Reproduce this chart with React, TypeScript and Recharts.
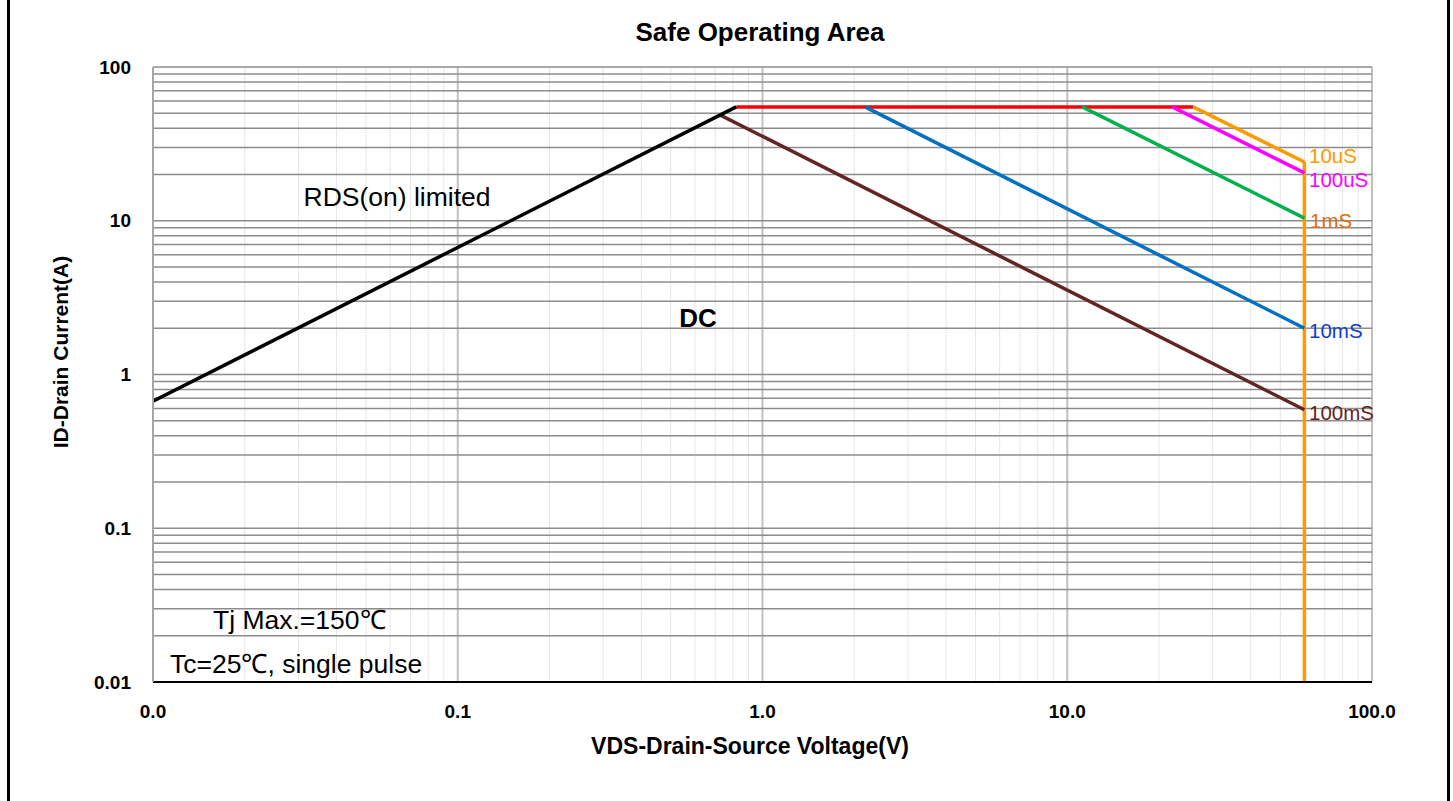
import React from "react";
import { LineChart, Line, XAxis, YAxis, ReferenceLine } from "recharts";

// axis ticks
const xTicks = [0.01, 0.1, 1, 10, 100];
const xTickLabels = ["0.0", "0.1", "1.0", "10.0", "100.0"];
const yTicks = [0.01, 0.1, 1, 10, 100];
const yTickLabels = ["0.01", "0.1", "1", "10", "100"];

// SOA boundary segments (V, A)
const rdsLimit = [
  { v: 0.01, i: 0.67 },
  { v: 0.82, i: 55 },
];
const currentLimit = [
  { v: 0.82, i: 55 },
  { v: 25.9, i: 55 },
];
const pulse10us = [
  { v: 25.9, i: 55 },
  { v: 60, i: 24.1 },
];
const pulse100us = [
  { v: 22.1, i: 55 },
  { v: 60, i: 20.5 },
];
const pulse1ms = [
  { v: 11.2, i: 55 },
  { v: 60, i: 10.4 },
];
const pulse10ms = [
  { v: 2.17, i: 55 },
  { v: 60, i: 2.0 },
];
const pulse100ms = [
  { v: 0.73, i: 48.5 },
  { v: 60, i: 0.59 },
];
const voltageLimit = [
  { v: 60, i: 24.1 },
  { v: 60, i: 0.01 },
];

const FONT = "'Liberation Sans', Arial, sans-serif";

// grid lines at 1..9 of every decade
const decades = [0.01, 0.1, 1, 10];
const minorValues: number[] = [];
decades.forEach((d) => {
  for (let k = 1; k <= 9; k++) minorValues.push(+(k * d).toPrecision(3));
});
minorValues.push(100);

const fmtX = (v: number) => xTickLabels[xTicks.indexOf(v)] ?? String(v);
const fmtY = (v: number) => yTickLabels[yTicks.indexOf(v)] ?? String(v);

function Txt({
  x,
  y,
  children,
  size = 22,
  bold = false,
  color = "#000",
  align = "center",
}: {
  x: number;
  y: number;
  children: React.ReactNode;
  size?: number;
  bold?: boolean;
  color?: string;
  align?: "center" | "left";
}) {
  return (
    <div
      style={{
        position: "absolute",
        left: x,
        top: y,
        transform: align === "center" ? "translate(-50%, -50%)" : "translateY(-50%)",
        fontFamily: FONT,
        fontSize: size,
        fontWeight: bold ? 700 : 400,
        color,
        lineHeight: 1,
        whiteSpace: "nowrap",
      }}
    >
      {children}
    </div>
  );
}

export default function App() {
  const tickStyle = { fontFamily: FONT, fontSize: 19, fontWeight: 700, fill: "#000" };
  const series = [
    { data: voltageLimit, color: "#ff9900" },
    { data: currentLimit, color: "#ff0000" },
    { data: pulse10us, color: "#ff9900" },
    { data: pulse100us, color: "#ff00ff" },
    { data: pulse1ms, color: "#00b050" },
    { data: pulse10ms, color: "#0070c0" },
    { data: pulse100ms, color: "#632523" },
    { data: rdsLimit, color: "#000000" },
  ];
  return (
    <div
      style={{
        position: "absolute",
        left: 0,
        top: 0,
        width: 1453,
        height: 801,
        background: "#fff",
        overflow: "hidden",
      }}
    >
      <div
        style={{
          position: "absolute",
          left: 7,
          top: -5,
          width: 1437,
          height: 820,
          borderLeft: "3px solid #000",
          borderRight: "3px solid #000",
        }}
      />
      <LineChart
        width={1453}
        height={801}
        margin={{ top: 67, right: 81, bottom: 79, left: 20 }}
        style={{ position: "absolute", left: 0, top: 0 }}
      >
        <XAxis
          dataKey="v"
          type="number"
          scale="log"
          domain={[0.01, 100]}
          ticks={xTicks}
          tickFormatter={fmtX}
          allowDataOverflow
          tickLine={false}
          axisLine={{ stroke: "#000", strokeWidth: 2 }}
          tick={tickStyle}
          tickMargin={17}
          height={40}
        />
        <YAxis
          dataKey="i"
          type="number"
          scale="log"
          domain={[0.01, 100]}
          ticks={yTicks}
          tickFormatter={fmtY}
          allowDataOverflow
          tickLine={false}
          axisLine={{ stroke: "#a6a6a6", strokeWidth: 2 }}
          tick={tickStyle}
          tickMargin={16}
          width={133}
        />
        {minorValues.map((v) => (
          <ReferenceLine
            key={`vx-${v}`}
            x={v}
            stroke={xTicks.includes(v) ? "#c0c0c0" : "#e6e6e6"}
            strokeWidth={xTicks.includes(v) ? 2 : 1}
          />
        ))}
        {minorValues.map((v) => (
          <ReferenceLine key={`hy-${v}`} y={v} stroke="#8c8c8c" strokeWidth={1.5} />
        ))}
        {series.map((s, idx) => (
          <Line
            key={idx}
            data={s.data}
            dataKey="i"
            stroke={s.color}
            strokeWidth={3.5}
            dot={false}
            isAnimationActive={false}
          />
        ))}
      </LineChart>

      <Txt x={760} y={32} size={26} bold>Safe Operating Area</Txt>
      <Txt x={750} y={746} size={23} bold>VDS-Drain-Source Voltage(V)</Txt>
      <div
        style={{
          position: "absolute",
          left: 60,
          top: 352,
          transform: "translate(-50%, -50%) rotate(-90deg)",
          fontFamily: FONT,
          fontSize: 21,
          fontWeight: 700,
          lineHeight: 1,
          whiteSpace: "nowrap",
        }}
      >
        ID-Drain Current(A)
      </div>

      <Txt x={397} y={197} size={26.5}>RDS(on) limited</Txt>
      <Txt x={698} y={318} size={26} bold>DC</Txt>
      <Txt x={213} y={620} size={26.5} align="left">Tj Max.=150℃</Txt>
      <Txt x={170} y={664} size={26.5} align="left">Tc=25℃, single pulse</Txt>

      <Txt x={1309} y={156} size={20.5} color="#ff9900" align="left">10uS</Txt>
      <Txt x={1309} y={180} size={20.5} color="#ff00ff" align="left">100uS</Txt>
      <Txt x={1310} y={221} size={20.5} color="#e46c0a" align="left">1mS</Txt>
      <Txt x={1309} y={331} size={20.5} color="#0b3fcc" align="left">10mS</Txt>
      <Txt x={1309} y={413} size={20.5} color="#632523" align="left">100mS</Txt>
    </div>
  );
}
